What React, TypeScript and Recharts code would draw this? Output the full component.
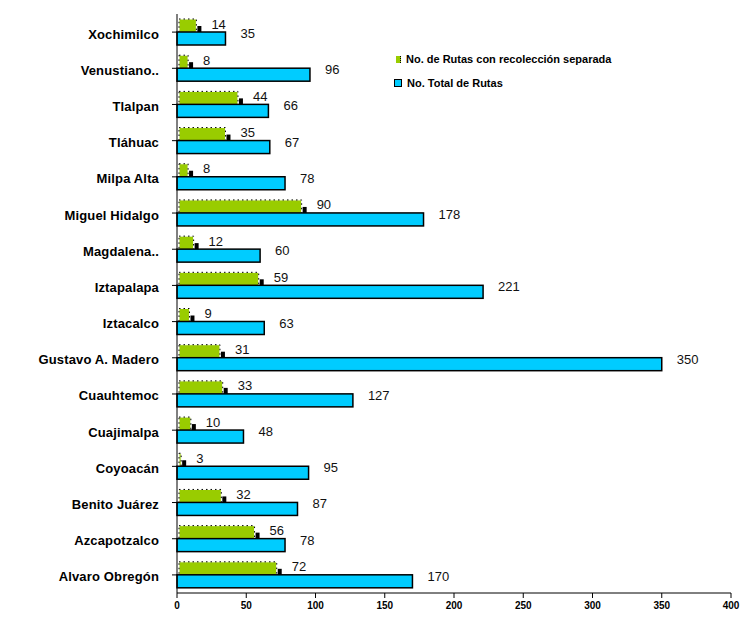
import { BarChart, Bar, XAxis, YAxis, LabelList } from 'recharts';

// Delegaciones, de arriba hacia abajo
const delegaciones = [
    'Xochimilco', 'Venustiano..', 'Tlalpan', 'Tláhuac', 'Milpa Alta', 'Miguel Hidalgo',
    'Magdalena..', 'Iztapalapa', 'Iztacalco', 'Gustavo A. Madero', 'Cuauhtemoc',
    'Cuajimalpa', 'Coyoacán', 'Benito Juárez', 'Azcapotzalco', 'Alvaro Obregón',
];
const rutasSeparada = [14, 8, 44, 35, 8, 90, 12, 59, 9, 31, 33, 10, 3, 32, 56, 72];
const rutasTotal = [35, 96, 66, 67, 78, 178, 60, 221, 63, 350, 127, 48, 95, 87, 78, 170];
const xTicks = [0, 50, 100, 150, 200, 250, 300, 350, 400];

const GREEN = '#99CC00';
const BLUE = '#00CCFF';
const FONT = '"Liberation Sans", Arial, sans-serif';

const data = delegaciones.map((name, i) => ({
    name,
    separada: rutasSeparada[i],
    total: rutasTotal[i],
}));

// green bar: dotted border + small black block at the end
const GreenShape = (props: any) => {
    const { x, y, width, height } = props;
    if (width == null || height == null) return null;
    return (
        <g>
            <rect x={x + 2} y={y} width={Math.max(width - 2, 0)} height={height} fill={GREEN} stroke="#fff" strokeWidth={1} />
            <rect x={x + 2} y={y} width={Math.max(width - 2, 0)} height={height} fill="none" stroke="#000" strokeWidth={1} strokeDasharray="1.5 3" />
            <rect x={x + width + 1} y={y + height / 2} width={4} height={height / 2 + 1} fill="#000" />
        </g>
    );
};

const BlueShape = (props: any) => {
    const { x, y, width, height } = props;
    if (width == null || height == null) return null;
    return <rect x={x} y={y} width={width} height={height} fill={BLUE} stroke="#000" strokeWidth={1.5} />;
};

const makeLabel = (dx: number, dy: number) => (props: any) => {
    const { x, y, width, height, value } = props;
    return (
        <text x={x + width + dx} y={y + height / 2 + dy} dominantBaseline="central" textAnchor="start"
            fontFamily={FONT} fontSize={13} fill="#111">
            {value}
        </text>
    );
};

const CategoryTick = ({ x, y, payload }: any) => (
    <text x={x} y={y + 2} dominantBaseline="central" textAnchor="end" fontFamily={FONT}
        fontSize={13} fontWeight="bold" letterSpacing={0.15} fill="#000">
        {payload.value}
    </text>
);

export default function App() {
    return (
        <div style={{ position: 'absolute', left: 0, top: 0, width: 745, height: 633, background: '#fff' }}>
            <BarChart
                width={745}
                height={633}
                data={data}
                layout="vertical"
                margin={{ top: 14, right: 14, bottom: 10, left: 0 }}
                barGap={-1}
            >
                <XAxis
                    type="number"
                    domain={[0, 400]}
                    ticks={xTicks}
                    interval={0}
                    height={30}
                    stroke="#000"
                    tickSize={5}
                    tickMargin={4}
                    tick={{ fontFamily: FONT, fontSize: 10, fontWeight: 'bold', fill: '#000' }}
                />
                <YAxis
                    type="category"
                    dataKey="name"
                    width={177}
                    stroke="#000"
                    tickSize={5}
                    tickMargin={13}
                    interval={0}
                    tick={<CategoryTick />}
                />
                <Bar dataKey="separada" barSize={14} shape={<GreenShape />} isAnimationActive={false}>
                    <LabelList dataKey="separada" content={makeLabel(15, -2)} />
                </Bar>
                <Bar dataKey="total" barSize={13} shape={<BlueShape />} isAnimationActive={false}>
                    <LabelList dataKey="total" content={makeLabel(15, -5)} />
                </Bar>
            </BarChart>

            {/* Legend */}
            <div style={{ position: 'absolute', left: 394, top: 51, fontFamily: FONT, fontSize: 11, fontWeight: 'bold', color: '#000' }}>
                <div style={{ display: 'flex', alignItems: 'center', height: 16 }}>
                    <span style={{ display: 'inline-block', width: 4, height: 7, background: GREEN, borderRight: '1px dotted #000', marginLeft: 2, marginRight: 5 }} />
                    <span>No. de Rutas con recolección separada</span>
                </div>
                <div style={{ display: 'flex', alignItems: 'center', height: 16, marginTop: 8 }}>
                    <span style={{ display: 'inline-block', width: 6, height: 6, background: BLUE, border: '1px solid #000', marginRight: 5 }} />
                    <span>No. Total de Rutas</span>
                </div>
            </div>
        </div>
    );
}
